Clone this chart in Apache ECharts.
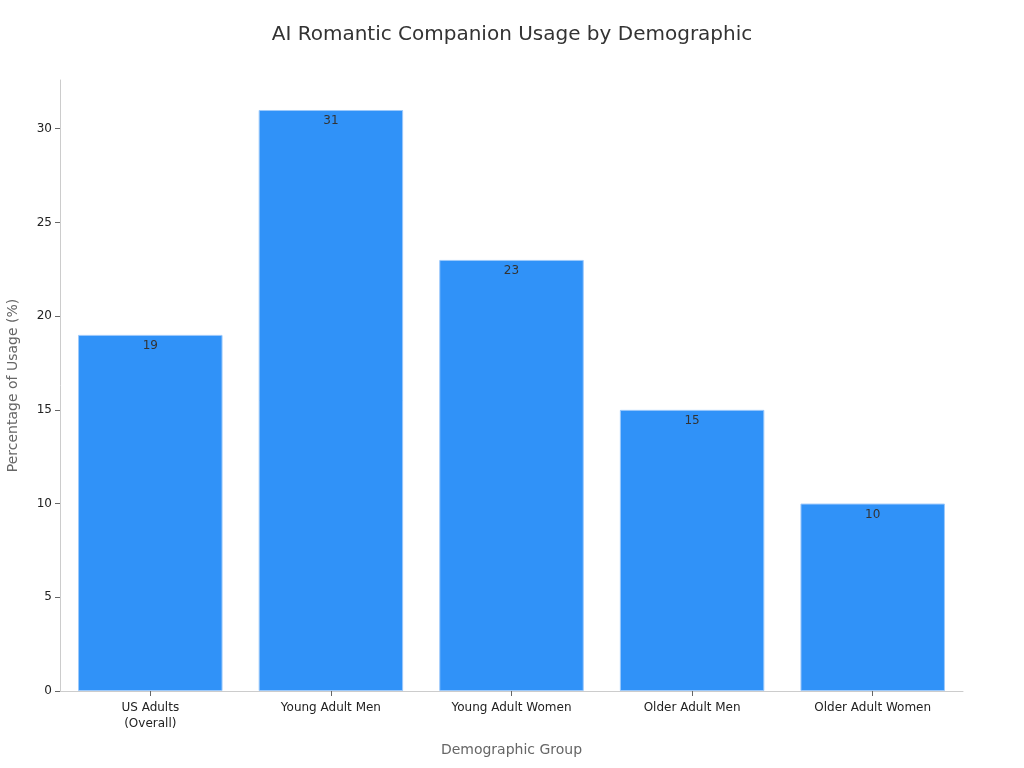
<!DOCTYPE html>
<html>
<head>
<meta charset="utf-8">
<script src="https://cdn.jsdelivr.net/npm/echarts@6/dist/echarts.min.js"></script>
<style>html,body{margin:0;padding:0;background:#fff}#c{width:1024px;height:768px}</style>
</head>
<body>
<div id="c"></div>
<script>
const categories = ["US Adults\n(Overall)", "Young Adult Men", "Young Adult Women", "Older Adult Men", "Older Adult Women"];
const usage = [19, 31, 23, 15, 10];
const yTicks = [0, 5, 10, 15, 20, 25, 30];

const chart = echarts.init(document.getElementById('c'), null, {renderer: 'canvas'});
const font = 'DejaVu Sans';
chart.setOption({
  backgroundColor: '#ffffff',
  animation: false,
  title: {
    text: 'AI Romantic Companion Usage by Demographic',
    left: 'center', top: 20,
    textStyle: {fontFamily: font, fontSize: 20, fontWeight: 'normal', color: '#333333'}
  },
  grid: {left: 60, right: 61, top: 80, bottom: 77, containLabel: false, outerBoundsMode: 'none'},
  xAxis: {
    type: 'category',
    data: categories,
    name: 'Demographic Group',
    nameLocation: 'middle',
    nameGap: 52,
    nameTextStyle: {fontFamily: font, fontSize: 14, color: '#666666'},
    axisLine: {show: true, lineStyle: {color: '#cccccc', width: 1}},
    axisTick: {show: true, alignWithLabel: true, length: 5, lineStyle: {color: '#666666'}},
    axisLabel: {fontFamily: font, fontSize: 12, color: '#222222', margin: 9, lineHeight: 16},
    splitLine: {show: false}
  },
  yAxis: {
    type: 'value',
    min: 0, max: 32.6, interval: 5,
    name: 'Percentage of Usage (%)',
    nameLocation: 'middle',
    nameGap: 40,
    nameTextStyle: {fontFamily: font, fontSize: 14, color: '#666666'},
    axisLine: {show: true, lineStyle: {color: '#cccccc', width: 1}},
    axisTick: {show: true, length: 5, lineStyle: {color: '#666666'}, customValues: yTicks},
    axisLabel: {fontFamily: font, fontSize: 12, color: '#222222', margin: 8, customValues: yTicks},
    splitLine: {show: false}
  },
  series: [{
    type: 'bar',
    data: usage,
    barCategoryGap: '20%',
    itemStyle: {color: '#3092f8', borderColor: '#9cc9fb', borderWidth: 1},
    label: {show: true, position: 'insideTop', distance: 5, fontFamily: font, fontSize: 12, color: '#333333'}
  }]
});
</script>
</body>
</html>
